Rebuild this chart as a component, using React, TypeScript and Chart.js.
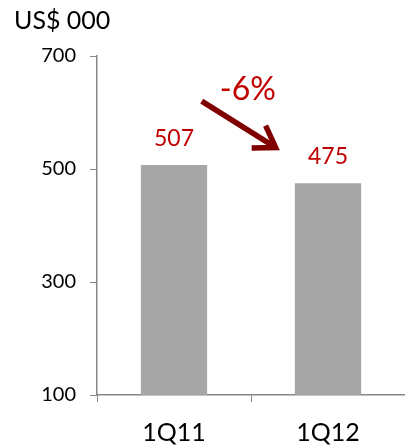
import React, { useEffect, useRef } from "react";
import { Chart, registerables } from "chart.js";

Chart.register(...registerables);

const categories = ["1Q11", "1Q12"];
const revenue = [507, 475];
const yTicks = [100, 300, 500, 700];
const changeLabel = "-6%";
const unitLabel = "US$ 000";
// arrow endpoints in data space: [category index, value]
const arrowFrom = [0.18, 620];
const arrowTo = [0.66, 538];
const changePos = [0.48, 640];

const FONT = "Lato, 'Open Sans', sans-serif";

const overlay = {
  id: "overlay",
  afterDatasetsDraw(chart: any) {
    const { ctx, scales } = chart;
    const x = scales.x;
    const y = scales.y;
    const meta = chart.getDatasetMeta(0);
    ctx.save();
    // value labels
    ctx.fillStyle = "#c00000";
    ctx.font = `23px ${FONT}`;
    ctx.textAlign = "center";
    ctx.textBaseline = "alphabetic";
    meta.data.forEach((bar: any, i: number) => {
      ctx.fillText(String(revenue[i]), bar.x, bar.y - 19);
    });
    // arrow
    const x1 = x.getPixelForValue(arrowFrom[0]);
    const y1 = y.getPixelForValue(arrowFrom[1]);
    const x2 = x.getPixelForValue(arrowTo[0]);
    const y2 = y.getPixelForValue(arrowTo[1]);
    const ang = Math.atan2(y2 - y1, x2 - x1);
    ctx.strokeStyle = "#800000";
    ctx.lineWidth = 5.5;
    ctx.lineCap = "butt";
    ctx.beginPath();
    ctx.moveTo(x1, y1);
    ctx.lineTo(x2 - 4 * Math.cos(ang), y2 - 4 * Math.sin(ang));
    ctx.stroke();
    const hl = 24;
    ctx.lineJoin = "miter";
    ctx.beginPath();
    ctx.moveTo(x2 - hl * Math.cos(ang - 0.58), y2 - hl * Math.sin(ang - 0.58));
    ctx.lineTo(x2, y2);
    ctx.lineTo(x2 - hl * Math.cos(ang + 0.58), y2 - hl * Math.sin(ang + 0.58));
    ctx.stroke();
    // change label
    ctx.fillStyle = "#c00000";
    ctx.font = `32px ${FONT}`;
    ctx.textBaseline = "middle";
    ctx.fillText(changeLabel, x.getPixelForValue(changePos[0]), y.getPixelForValue(changePos[1]));
    ctx.restore();
  },
};

export default function App() {
  const ref = useRef<HTMLCanvasElement>(null);
  useEffect(() => {
    document.body.style.margin = "0";
    const chart = new Chart(ref.current!, {
      type: "bar",
      data: {
        labels: categories,
        datasets: [
          {
            data: revenue,
            backgroundColor: "#a6a6a6",
            barPercentage: 0.86,
            categoryPercentage: 0.5,
          },
        ],
      },
      options: {
        animation: false,
        responsive: false,
        layout: { padding: { left: 14, right: 0, top: 0, bottom: 0 } },
        plugins: {
          legend: { display: false },
          tooltip: { enabled: false },
          title: {
            display: true,
            text: unitLabel,
            align: "start",
            color: "#000",
            font: { family: FONT, size: 25, weight: "normal" },
            padding: { top: 6, bottom: 20 },
          },
        },
        scales: {
          x: {
            grid: { drawOnChartArea: false, color: "#868686", tickLength: 7, offset: true },
            border: { color: "#868686", width: 1.5 },
            ticks: { color: "#000", font: { family: FONT, size: 25 }, padding: 16 },
            afterFit: (s: any) => {
              s.height = 50;
            },
          },
          y: {
            min: 100,
            max: 700,
            afterBuildTicks: (s: any) => {
              s.ticks = yTicks.map((v) => ({ value: v }));
            },
            grid: { drawOnChartArea: false, color: "#868686", tickLength: 7 },
            border: { color: "#868686", width: 1.5 },
            ticks: { color: "#000", font: { family: FONT, size: 20 }, padding: 14 },
            afterFit: (s: any) => {
              s.width = 83;
            },
          },
        },
      },
      plugins: [overlay],
    });
    return () => chart.destroy();
  }, []);
  return (
    <div style={{ width: 405, height: 445 }}>
      <canvas ref={ref} width={405} height={445} />
    </div>
  );
}
